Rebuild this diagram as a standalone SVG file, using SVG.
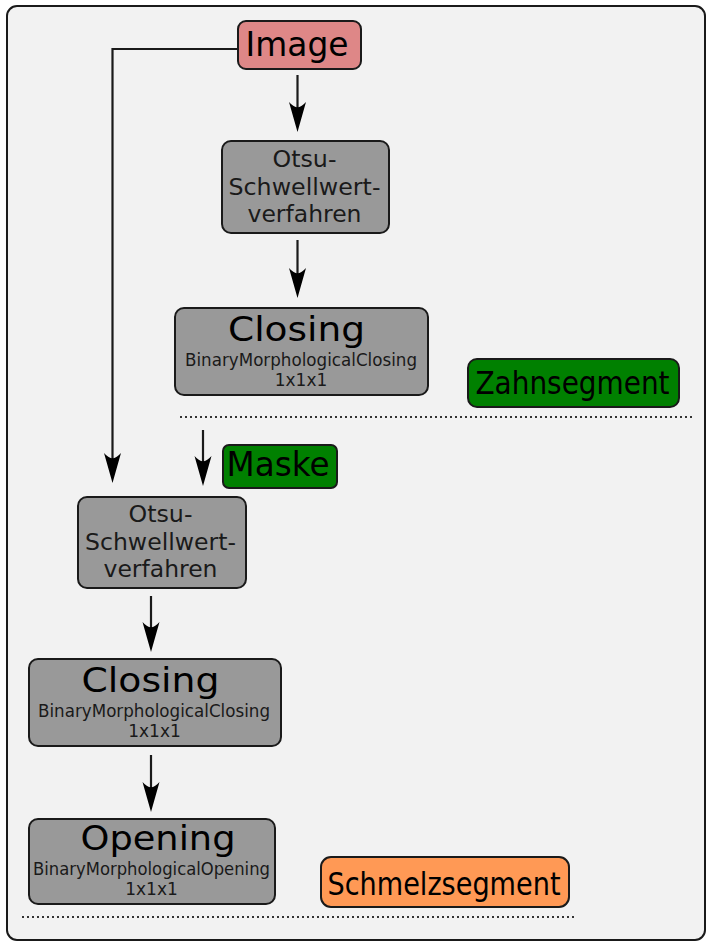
<svg xmlns="http://www.w3.org/2000/svg" width="712" height="950" viewBox="0 0 712 950">
<style>
.box{stroke:#1a1a1a;stroke-width:2}
.gray{fill:#999999}
.t{font-family:"DejaVu Sans","Liberation Sans",sans-serif;fill:#000;text-anchor:middle}
.c{font-family:"DejaVu Sans Condensed","DejaVu Sans","Liberation Sans",sans-serif;font-stretch:condensed;fill:#000;text-anchor:middle}
.s{font-family:"DejaVu Sans","Liberation Sans",sans-serif;fill:#1a1a1a;text-anchor:middle;font-size:17px}
.m{font-size:22.5px;fill:#1a1a1a}
.big{font-size:34px}
.con{fill:none;stroke:#1a1a1a;stroke-width:2.2}
.dot{fill:none;stroke:#333;stroke-width:2;stroke-dasharray:2 3}
</style>
<defs>
<marker id="ah" markerUnits="userSpaceOnUse" orient="auto" refX="0" refY="0" markerWidth="40" markerHeight="40" overflow="visible">
<path d="M20,0 L-10,-8.5 Q-4,-3 -5,0 Q-4,3 -10,8.5 Z" fill="#000"/>
</marker>
</defs>
<rect x="7" y="6" width="698" height="934" rx="10" fill="#f2f2f2" stroke="#1a1a1a" stroke-width="2"/>

<g id="connectors">
<path class="con" d="M297.5,75 V112" marker-end="url(#ah)"/>
<path class="con" d="M297.5,240 V278" marker-end="url(#ah)"/>
<path class="con" d="M238,49 H112.5 V463" marker-end="url(#ah)"/>
<path class="con" d="M203,430 V466" marker-end="url(#ah)"/>
<path class="con" d="M151,596 V632" marker-end="url(#ah)"/>
<path class="con" d="M151,755 V792" marker-end="url(#ah)"/>
</g>

<g id="separators">
<line class="dot" x1="180" y1="417" x2="693" y2="417"/>
<line class="dot" x1="22" y1="917" x2="574" y2="917"/>
</g>

<g id="image">
<rect class="box" x="238" y="21" width="123" height="48" rx="8" fill="#de8787"/>
<text class="t" x="297" y="56" font-size="34" textLength="103" lengthAdjust="spacingAndGlyphs">Image</text>
</g>

<g id="otsu1">
<rect class="box gray" x="222" y="141" width="167" height="92" rx="9"/>
<text class="t m" x="304.5" y="167" textLength="64" lengthAdjust="spacingAndGlyphs">Otsu-</text>
<text class="t m" x="304.5" y="195" textLength="152" lengthAdjust="spacingAndGlyphs">Schwellwert-</text>
<text class="t m" x="304.5" y="222" textLength="114" lengthAdjust="spacingAndGlyphs">verfahren</text>
</g>

<g id="closing1">
<rect class="box gray" x="175" y="308" width="253" height="87" rx="9"/>
<text class="t big" x="296.5" y="341" textLength="137" lengthAdjust="spacingAndGlyphs">Closing</text>
<text class="s" x="301" y="366" textLength="232" lengthAdjust="spacingAndGlyphs">BinaryMorphologicalClosing</text>
<text class="s" x="301" y="386">1x1x1</text>
</g>

<g id="zahnsegment">
<rect class="box" x="468" y="359" width="211" height="48" rx="9" fill="#008000"/>
<text class="c" x="572.5" y="394" font-size="32" textLength="194" lengthAdjust="spacingAndGlyphs">Zahnsegment</text>
</g>

<g id="maske">
<rect class="box" x="223" y="445" width="114" height="43" rx="6" fill="#008000"/>
<text class="t" x="278" y="476" font-size="33" textLength="103" lengthAdjust="spacingAndGlyphs">Maske</text>
</g>

<g id="otsu2">
<rect class="box gray" x="78" y="497" width="168" height="91" rx="9"/>
<text class="t m" x="160.5" y="522" textLength="64" lengthAdjust="spacingAndGlyphs">Otsu-</text>
<text class="t m" x="160.5" y="550" textLength="151" lengthAdjust="spacingAndGlyphs">Schwellwert-</text>
<text class="t m" x="160.5" y="577" textLength="114" lengthAdjust="spacingAndGlyphs">verfahren</text>
</g>

<g id="closing2">
<rect class="box gray" x="29" y="659" width="252" height="87" rx="9"/>
<text class="t big" x="150.5" y="692" textLength="138" lengthAdjust="spacingAndGlyphs">Closing</text>
<text class="s" x="154" y="717" textLength="232" lengthAdjust="spacingAndGlyphs">BinaryMorphologicalClosing</text>
<text class="s" x="154.5" y="737">1x1x1</text>
</g>

<g id="opening">
<rect class="box gray" x="29" y="819" width="246" height="85" rx="9"/>
<text class="t big" x="158" y="850" textLength="155" lengthAdjust="spacingAndGlyphs">Opening</text>
<text class="s" x="151.5" y="875" textLength="237" lengthAdjust="spacingAndGlyphs">BinaryMorphologicalOpening</text>
<text class="s" x="151.5" y="895">1x1x1</text>
</g>

<g id="schmelzsegment">
<rect class="box" x="321" y="857" width="248" height="50" rx="10" fill="#ff9955"/>
<text class="c" x="444" y="895" font-size="32" textLength="233" lengthAdjust="spacingAndGlyphs">Schmelzsegment</text>
</g>
</svg>
